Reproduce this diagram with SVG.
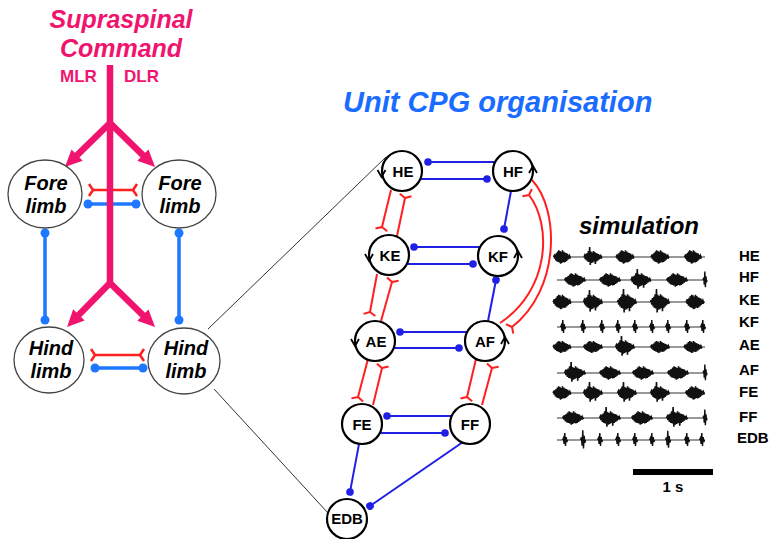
<svg xmlns="http://www.w3.org/2000/svg" xmlns:xlink="http://www.w3.org/1999/xlink" width="772" height="539" viewBox="0 0 772 539">
<style>
.pink{fill:#f0146e;font-family:"Liberation Sans",Arial,sans-serif;font-weight:bold}
.it{font-style:italic}
.limbc{fill:#fff;stroke:#444;stroke-width:1.3}
.limbt{font-family:"Liberation Sans",Arial,sans-serif;font-weight:bold;font-style:italic;font-size:20px;fill:#000;text-anchor:middle}
.cpg{fill:#fff;stroke:#000;stroke-width:2.2}
.cpgt{font-family:"Liberation Sans",Arial,sans-serif;font-weight:bold;font-size:15px;fill:#000;text-anchor:middle}
.rot{fill:none;stroke:#000;stroke-width:1.8;stroke-linejoin:miter}
.lb{stroke:#1e78ff;stroke-width:3.5;fill:none}
.lr{stroke:#ff1f1f;stroke-width:2.5;fill:none}
.rb{stroke:#1f1fe6;stroke-width:2;fill:none}
.rr{stroke:#ff1f1f;stroke-width:2;fill:none}
.pk{stroke:#f0146e;stroke-width:6.5;fill:none}
.thin{stroke:#333;stroke-width:1;fill:none}
.trace{stroke:#333;stroke-width:1}
.lab{font-family:"Liberation Sans",Arial,sans-serif;font-weight:bold;font-size:15px;fill:#000}
</style>
<defs>
<marker id="dotL" markerUnits="userSpaceOnUse" markerWidth="12" markerHeight="12" refX="6" refY="6" orient="auto"><circle cx="6" cy="6" r="4.5" fill="#1e78ff"/></marker>
<marker id="dotR" markerUnits="userSpaceOnUse" markerWidth="10" markerHeight="10" refX="5" refY="5" orient="auto"><circle cx="5" cy="5" r="3.8" fill="#1f1fe6"/></marker>
<marker id="forkL" markerUnits="userSpaceOnUse" markerWidth="14" markerHeight="16" refX="2" refY="8" orient="auto-start-reverse" overflow="visible"><path d="M2,8 L6,2 M2,8 L6,14" stroke="#ff1f1f" stroke-width="2.5" fill="none"/></marker>
<marker id="forkR" markerUnits="userSpaceOnUse" markerWidth="14" markerHeight="16" refX="2" refY="8" orient="auto" overflow="visible"><path d="M2,8 L5,2 M2,8 L5,14" stroke="#ff1f1f" stroke-width="2" fill="none"/></marker>
<marker id="arr" markerUnits="userSpaceOnUse" markerWidth="20" markerHeight="18" refX="1" refY="9" orient="auto" overflow="visible"><path d="M0,1 L17,9 L0,17 z" fill="#f0146e"/></marker>
<path id="bA" vector-effect="non-scaling-stroke" d="M-10,0 L-9.3,-1 L-8.6,1.5 L-7.9,-2.5 L-7.2,3 L-6.5,-3.5 L-5.8,4 L-5.1,-5 L-4.4,4.5 L-3.7,-6 L-3,5 L-2.3,-5.5 L-1.6,6 L-0.9,-4.5 L-0.2,5.5 L0.5,-6 L1.2,4.5 L1.9,-5 L2.6,5 L3.3,-4 L4,4.5 L4.7,-3.5 L5.4,3.5 L6.1,-3 L6.8,2.5 L7.5,-2 L8.2,1.5 L8.9,-1 L9.6,0.5 L10,0" stroke="#111" stroke-width="1.6" fill="none"/>
<path id="bB" vector-effect="non-scaling-stroke" d="M-10,0 L-9.3,-1.5 L-8.6,2 L-7.9,-3 L-7.2,3.5 L-6.5,-4 L-5.8,4.5 L-5.1,-6 L-4.4,5 L-3.7,-10 L-3,8 L-2.3,-5.5 L-1.6,6 L-0.9,-4.5 L-0.2,5.5 L0.5,-6 L1.2,4.5 L1.9,-5 L2.6,7 L3.3,-4 L4,4.5 L4.7,-3.5 L5.4,3.5 L6.1,-3 L6.8,2.5 L7.5,-2 L8.2,1.5 L8.9,-1 L9.6,0.5 L10,0" stroke="#111" stroke-width="1.6" fill="none"/>
<path id="sp" vector-effect="non-scaling-stroke" d="M-2.5,0 L-1.6,-2 L-0.9,4 L-0.2,-7 L0.5,6 L1.2,-3 L1.9,2 L2.5,0" stroke="#111" stroke-width="1.4" fill="none"/>
</defs>

<!-- Left panel title -->
<text class="pink it" x="121" y="28" font-size="25" text-anchor="middle">Supraspinal</text>
<text class="pink it" x="121" y="57" font-size="25" text-anchor="middle">Command</text>
<text class="pink" x="60" y="82" font-size="17">MLR</text>
<text class="pink" x="124" y="82" font-size="17">DLR</text>

<g id="connectors">
  <!-- left: limb couplings -->
  <line class="lr" x1="93" y1="190" x2="133" y2="190" marker-start="url(#forkL)" marker-end="url(#forkL)"/>
  <line class="lb" x1="88" y1="204" x2="136" y2="204" marker-start="url(#dotL)" marker-end="url(#dotL)"/>
  <line class="lr" x1="95" y1="355" x2="140" y2="355" marker-start="url(#forkL)" marker-end="url(#forkL)"/>
  <line class="lb" x1="95" y1="368" x2="143" y2="368" marker-start="url(#dotL)" marker-end="url(#dotL)"/>
  <line class="lb" x1="45" y1="233" x2="45" y2="320" marker-start="url(#dotL)" marker-end="url(#dotL)"/>
  <line class="lb" x1="179" y1="233" x2="179" y2="320" marker-start="url(#dotL)" marker-end="url(#dotL)"/>
  <!-- supraspinal drive -->
  <line class="pk" x1="110" y1="65" x2="110" y2="283"/>
  <line class="pk" x1="110" y1="123" x2="76.4" y2="155.8" marker-end="url(#arr)"/>
  <line class="pk" x1="110" y1="123" x2="143.6" y2="155.8" marker-end="url(#arr)"/>
  <line class="pk" x1="110" y1="283" x2="78.2" y2="315.6" marker-end="url(#arr)"/>
  <line class="pk" x1="110" y1="283" x2="143.6" y2="315.8" marker-end="url(#arr)"/>
  <!-- zoom lines -->
  <line class="thin" x1="208" y1="329" x2="386" y2="157"/>
  <line class="thin" x1="214" y1="389" x2="328" y2="513"/>
  <!-- CPG blue -->
  <line class="rb" x1="428" y1="162" x2="495" y2="162" marker-start="url(#dotR)"/>
  <line class="rb" x1="420" y1="179" x2="487" y2="179" marker-end="url(#dotR)"/>
  <line class="rb" x1="414" y1="247" x2="480" y2="247" marker-start="url(#dotR)"/>
  <line class="rb" x1="406" y1="264" x2="473" y2="264" marker-end="url(#dotR)"/>
  <line class="rb" x1="400" y1="332" x2="467" y2="332" marker-start="url(#dotR)"/>
  <line class="rb" x1="393" y1="348" x2="459" y2="348" marker-end="url(#dotR)"/>
  <line class="rb" x1="387" y1="416" x2="452" y2="416" marker-start="url(#dotR)"/>
  <line class="rb" x1="380" y1="433" x2="445" y2="433" marker-end="url(#dotR)"/>
  <line class="rb" x1="511" y1="191" x2="504" y2="229" marker-end="url(#dotR)"/>
  <line class="rb" x1="488" y1="321" x2="496" y2="280" marker-end="url(#dotR)"/>
  <line class="rb" x1="359" y1="444" x2="350" y2="492" marker-end="url(#dotR)"/>
  <line class="rb" x1="463" y1="442" x2="370" y2="506" marker-end="url(#dotR)"/>
  <!-- CPG red -->
  <line class="rr" x1="391" y1="190" x2="382" y2="227" marker-end="url(#forkR)"/>
  <line class="rr" x1="397" y1="236" x2="405" y2="198" marker-end="url(#forkR)"/>
  <line class="rr" x1="377" y1="274" x2="370" y2="312" marker-end="url(#forkR)"/>
  <line class="rr" x1="381" y1="321" x2="392" y2="282" marker-end="url(#forkR)"/>
  <line class="rr" x1="368" y1="359" x2="358" y2="397" marker-end="url(#forkR)"/>
  <line class="rr" x1="373" y1="405" x2="382" y2="368" marker-end="url(#forkR)"/>
  <line class="rr" x1="476" y1="359" x2="467" y2="397" marker-end="url(#forkR)"/>
  <line class="rr" x1="482" y1="405" x2="492" y2="368" marker-end="url(#forkR)"/>
  <path class="rr" d="M532,180 C560,210 560,290 512,327" marker-end="url(#forkR)"/>
  <path class="rr" d="M500,323 C550,290 552,225 529,195" marker-end="url(#forkR)"/>
</g>

<!-- limb nodes -->
<g id="fore-left"><ellipse class="limbc" cx="45" cy="194" rx="37" ry="34"/><text class="limbt" x="46" y="190">Fore</text><text class="limbt" x="46" y="213">limb</text></g>
<g id="fore-right"><ellipse class="limbc" cx="179" cy="194" rx="37" ry="34"/><text class="limbt" x="180" y="190">Fore</text><text class="limbt" x="180" y="213">limb</text></g>
<g id="hind-left"><ellipse class="limbc" cx="49" cy="360" rx="35" ry="33"/><text class="limbt" x="51" y="355">Hind</text><text class="limbt" x="51" y="378">limb</text></g>
<g id="hind-right"><ellipse class="limbc" cx="184" cy="361" rx="36" ry="33"/><text class="limbt" x="186" y="355">Hind</text><text class="limbt" x="186" y="378">limb</text></g>

<text x="343" y="112" font-family="'Liberation Sans',Arial,sans-serif" font-weight="bold" font-style="italic" font-size="29" fill="#1a6bff">Unit CPG organisation</text>

<!-- CPG nodes -->
<g id="HE"><circle class="cpg" cx="402" cy="171" r="20"/><path class="rot" d="M377.5,170 L381.5,177 L385.5,170"/><text class="cpgt" x="403" y="176.5">HE</text></g>
<g id="HF"><circle class="cpg" cx="513" cy="171" r="20"/><path class="rot" d="M529,173 L533,166 L537,173"/><text class="cpgt" x="513" y="176.5">HF</text></g>
<g id="KE"><circle class="cpg" cx="389" cy="255" r="20"/><path class="rot" d="M365,254 L369,261 L373,254"/><text class="cpgt" x="390" y="260.5">KE</text></g>
<g id="KF"><circle class="cpg" cx="498" cy="256" r="20"/><path class="rot" d="M514,258 L518,251 L522,258"/><text class="cpgt" x="498" y="261.5">KF</text></g>
<g id="AE"><circle class="cpg" cx="375" cy="341" r="20"/><path class="rot" d="M351,339 L355,346 L359,339"/><text class="cpgt" x="376" y="346.5">AE</text></g>
<g id="AF"><circle class="cpg" cx="485" cy="341" r="20"/><path class="rot" d="M501,344 L505,337 L509,344"/><text class="cpgt" x="485" y="346.5">AF</text></g>
<g id="FE"><circle class="cpg" cx="362" cy="424" r="20"/><text class="cpgt" x="362" y="429.5">FE</text></g>
<g id="FF"><circle class="cpg" cx="470" cy="424" r="20"/><text class="cpgt" x="470" y="429.5">FF</text></g>
<g id="EDB"><circle class="cpg" cx="347" cy="519" r="20"/><text class="cpgt" x="347" y="523.5" font-size="13">EDB</text></g>

<!-- simulation -->
<text x="579" y="234" font-family="'Liberation Sans',Arial,sans-serif" font-weight="bold" font-style="italic" font-size="24" fill="#000">simulation</text>
<g id="traces">
  <g class="trace">
    <line x1="557" y1="257" x2="705" y2="257"/>
    <line x1="557" y1="280" x2="705" y2="280"/>
    <line x1="557" y1="302" x2="705" y2="302"/>
    <line x1="557" y1="327" x2="705" y2="327"/>
    <line x1="557" y1="347" x2="705" y2="347"/>
    <line x1="557" y1="373" x2="705" y2="373"/>
    <line x1="557" y1="393" x2="705" y2="393"/>
    <line x1="557" y1="418" x2="705" y2="418"/>
    <line x1="557" y1="440" x2="705" y2="440"/>
  </g>
  <!-- HE -->
  <use xlink:href="#bA" transform="translate(562,257) scale(0.85,1.1)"/>
  <use xlink:href="#bB" transform="translate(593,257) scale(0.9,1.0)"/>
  <use xlink:href="#bA" transform="translate(625,257) scale(0.9,1.1)"/>
  <use xlink:href="#bA" transform="translate(660,257) scale(0.9,1.1)"/>
  <use xlink:href="#bA" transform="translate(693,257) scale(0.85,1.1)"/>
  <!-- HF -->
  <use xlink:href="#bA" transform="translate(575,280) scale(1.05,1.1)"/>
  <use xlink:href="#bA" transform="translate(610,280) scale(1.05,1.1)"/>
  <use xlink:href="#bB" transform="translate(641,280) scale(1,1.1)"/>
  <use xlink:href="#bA" transform="translate(677,280) scale(1.05,1.1)"/>
  <use xlink:href="#sp" transform="translate(705,280) scale(0.8,1.2)"/>
  <!-- KE -->
  <use xlink:href="#bA" transform="translate(562,302) scale(0.9,1.2)"/>
  <use xlink:href="#bB" transform="translate(593,302) scale(0.95,1.2)"/>
  <use xlink:href="#bB" transform="translate(627,302) scale(0.95,1.3)"/>
  <use xlink:href="#bB" transform="translate(660,302) scale(0.95,1.3)"/>
  <use xlink:href="#bA" transform="translate(695,302) scale(0.9,1.2)"/>
  <!-- KF -->
  <use xlink:href="#sp" transform="translate(563,327)"/>
  <use xlink:href="#sp" transform="translate(583,327)"/>
  <use xlink:href="#sp" transform="translate(602,327)"/>
  <use xlink:href="#sp" transform="translate(618,327)"/>
  <use xlink:href="#sp" transform="translate(635,327)"/>
  <use xlink:href="#sp" transform="translate(652,327)"/>
  <use xlink:href="#sp" transform="translate(668,327)"/>
  <use xlink:href="#sp" transform="translate(687,327)"/>
  <use xlink:href="#sp" transform="translate(703,327)"/>
  <!-- AE -->
  <use xlink:href="#bA" transform="translate(562,347) scale(0.9,1)"/>
  <use xlink:href="#bA" transform="translate(593,347) scale(0.95,1)"/>
  <use xlink:href="#bB" transform="translate(625,347) scale(0.95,1.1)"/>
  <use xlink:href="#bA" transform="translate(660,347) scale(0.95,1)"/>
  <use xlink:href="#bA" transform="translate(693,347) scale(0.9,1)"/>
  <!-- AF -->
  <use xlink:href="#bB" transform="translate(575,373) scale(1.05,1.1)"/>
  <use xlink:href="#bA" transform="translate(610,373) scale(1.05,1.1)"/>
  <use xlink:href="#bA" transform="translate(643,373) scale(1.05,1.1)"/>
  <use xlink:href="#bA" transform="translate(678,373) scale(1.05,1.1)"/>
  <use xlink:href="#sp" transform="translate(705,373) scale(0.8,1.2)"/>
  <!-- FE -->
  <use xlink:href="#bA" transform="translate(562,393) scale(0.9,1.1)"/>
  <use xlink:href="#bB" transform="translate(593,393) scale(0.95,1.1)"/>
  <use xlink:href="#bB" transform="translate(627,393) scale(0.95,1.1)"/>
  <use xlink:href="#bB" transform="translate(660,393) scale(0.95,1.1)"/>
  <use xlink:href="#bA" transform="translate(695,393) scale(0.95,1.1)"/>
  <!-- FF -->
  <use xlink:href="#bA" transform="translate(573,418) scale(1.05,1.1)"/>
  <use xlink:href="#bB" transform="translate(610,418) scale(1.05,1.1)"/>
  <use xlink:href="#bA" transform="translate(642,418) scale(1.05,1.1)"/>
  <use xlink:href="#bB" transform="translate(677,418) scale(1.05,1.1)"/>
  <use xlink:href="#sp" transform="translate(705,418) scale(0.8,1.2)"/>
  <!-- EDB -->
  <use xlink:href="#sp" transform="translate(565,440)"/>
  <use xlink:href="#sp" transform="translate(583,440) scale(1,1.4)"/>
  <use xlink:href="#sp" transform="translate(600,440)"/>
  <use xlink:href="#sp" transform="translate(618,440)"/>
  <use xlink:href="#sp" transform="translate(635,440)"/>
  <use xlink:href="#sp" transform="translate(652,440)"/>
  <use xlink:href="#sp" transform="translate(668,440) scale(1,1.3)"/>
  <use xlink:href="#sp" transform="translate(687,440)"/>
  <use xlink:href="#sp" transform="translate(702,440)"/>
</g>
<g id="trace-labels" class="lab">
  <text x="739" y="261">HE</text>
  <text x="739" y="282">HF</text>
  <text x="739" y="305">KE</text>
  <text x="739" y="327">KF</text>
  <text x="739" y="350">AE</text>
  <text x="739" y="375">AF</text>
  <text x="739" y="397">FE</text>
  <text x="739" y="422">FF</text>
  <text x="737" y="443">EDB</text>
</g>
<g id="scalebar">
  <rect x="633" y="469" width="80" height="6" fill="#000"/>
  <text x="673" y="492" font-family="'Liberation Sans',Arial,sans-serif" font-weight="bold" font-size="15" text-anchor="middle">1 s</text>
</g>
</svg>
